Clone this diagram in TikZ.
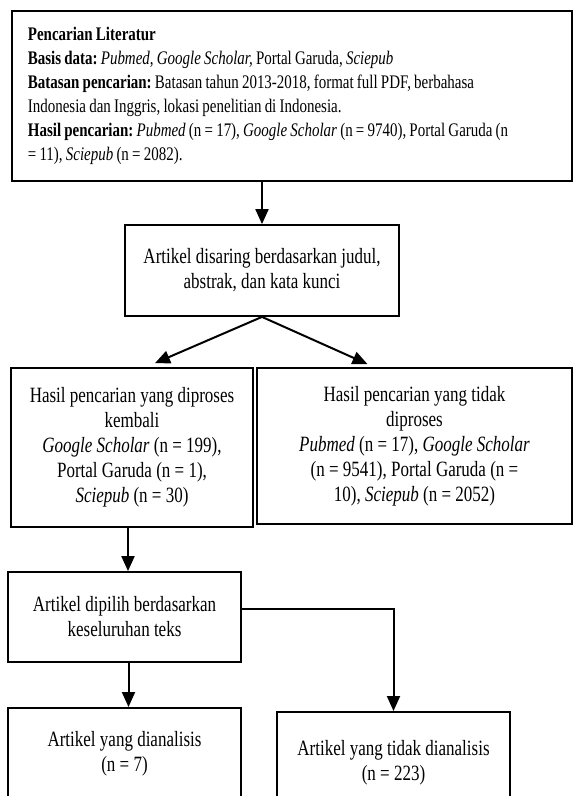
\documentclass[tikz,border=0pt]{standalone}
\usepackage{fontspec}
\setmainfont[FakeStretch=0.78]{Liberation Serif}
\frenchspacing
\usetikzlibrary{calc,arrows.meta}
\newcommand\tightspaces{\spaceskip 3.2pt\relax}

\begin{document}
\begin{tikzpicture}[x=1pt,y=-1pt,>={Triangle[length=15pt,width=13pt]},
  box/.style={draw,line width=1.8pt,align=center,inner sep=0pt,
    font=\fontsize{21.8}{25}\selectfont},
  flow/.style={->,line width=2pt}]
  \useasboundingbox (0,0) rectangle (573,796);
  % literature search
  \node[box,anchor=north west,minimum width=560pt,minimum height=170pt,
    text width=528pt,align=left,font=\fontsize{19.2}{24}\selectfont] (search) at (11,10)
    {\tightspaces\textbf{Pencarian Literatur}\\
     \textbf{Basis data:} \textit{Pubmed}, \textit{Google Scholar,} Portal Garuda, \textit{Sciepub}\\
     \textbf{Batasan pencarian:} Batasan tahun 2013-2018, format full PDF, berbahasa\\
     Indonesia dan Inggris, lokasi penelitian di Indonesia.\\
     \textbf{Hasil pencarian:} \textit{Pubmed} (n = 17), \textit{Google Scholar} (n = 9740), Portal Garuda (n\\
     = 11), \textit{Sciepub} (n = 2082).};
  % screening
  \node[box,minimum width=274pt,minimum height=91pt] (screen) at (262,270.5)
    {Artikel disaring berdasarkan judul,\\ abstrak, dan kata kunci};
  \node[box,minimum width=242pt,minimum height=159pt] (kept) at (132,447.5)
    {Hasil pencarian yang diproses\\ kembali\\
     \textit{Google Scholar} (n = 199),\\ Portal Garuda (n = 1),\\ \textit{Sciepub} (n = 30)};
  \node[box,minimum width=315pt,minimum height=156pt] (dropped) at (414.5,446)
    {Hasil pencarian yang tidak\\ diproses\\
     \textit{Pubmed} (n = 17), \textit{Google Scholar}\\ (n = 9541), Portal Garuda (n =\\
     10), \textit{Sciepub} (n = 2052)};
  % full text
  \node[box,minimum width=233pt,minimum height=90pt] (fulltext) at (124.5,617)
    {Artikel dipilih berdasarkan\\ keseluruhan teks};
  \node[box,anchor=north,minimum width=233pt,minimum height=92pt] (included) at (124.5,707)
    {Artikel yang dianalisis\\ (n = 7)};
  \node[box,anchor=north,minimum width=233pt,minimum height=102pt] (excluded) at (393.5,711)
    {Artikel yang tidak dianalisis\\ (n = 223)};
  % arrows
  \draw[flow] (screen.north |- search.south) -- (screen.north);
  \draw[flow] (screen.south) -- ([xshift=23pt,yshift=4pt]kept.north);
  \draw[flow] (screen.south) -- ([xshift=-47pt,yshift=3pt]dropped.north);
  \draw[flow] ([xshift=-4pt]kept.south) -- ([xshift=-4pt]kept.south |- fulltext.north);
  \draw[flow] ([xshift=4pt]fulltext.south) -- ([xshift=4pt]included.north);
  \draw[flow] ([yshift=8pt]fulltext.east) -| (excluded.north);
\end{tikzpicture}
\end{document}
